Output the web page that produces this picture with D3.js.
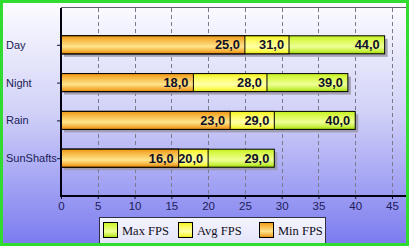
<!DOCTYPE html>
<html>
<head>
<meta charset="utf-8">
<script src="https://cdn.jsdelivr.net/npm/d3@7"></script>
<style>
  html, body { margin: 0; padding: 0; overflow: hidden; }
</style>
</head>
<body>
<script>
var width = 409,
    height = 246;

// chart data
var categories = ["Day", "Night", "Rain", "SunShafts"];
var maxFps = [44, 39, 40, 29];
var avgFps = [31, 28, 29, 20];
var minFps = [25, 18, 23, 16];
var xTicks = [0, 5, 10, 15, 20, 25, 30, 35, 40, 45];
var seriesNames = ["Max FPS", "Avg FPS", "Min FPS"];

var series = [
  {name: seriesNames[0], values: maxFps, grad: "gMax"},
  {name: seriesNames[1], values: avgFps, grad: "gAvg"},
  {name: seriesNames[2], values: minFps, grad: "gMin"}
];

var svg = d3.select("body").append("svg")
            .attr("width", width)
            .attr("height", height)

var defs = svg.append("defs");

function vgrad(id, stops) {
  var g = defs.append("linearGradient")
              .attr("id", id)
              .attr("x1", 0).attr("y1", 0)
              .attr("x2", 0).attr("y2", 1);
  stops.forEach(function(s) {
    g.append("stop").attr("offset", s[0]).attr("stop-color", s[1]);
  });
}

vgrad("bg", [[0, "#fdfdff"], [0.45, "#d2d2f8"], [1, "#7a7af0"]]);
vgrad("gMin", [[0, "#ef9614"], [0.2, "#f6b43c"], [0.6, "#fee48c"], [0.85, "#f5b038"], [1, "#e38608"]]);
vgrad("gAvg", [[0, "#f4f018"], [0.25, "#fcfc60"], [0.6, "#ffffa8"], [0.85, "#fafa50"], [1, "#e8e408"]]);
vgrad("gMax", [[0, "#c4f020"], [0.25, "#dcfa50"], [0.6, "#eeff96"], [0.85, "#c8f040"], [1, "#98d800"]]);
vgrad("gLeg", [[0, "#f4f4ff"], [1, "#e4e4fa"]]);

// background
svg.append("rect")
   .attr("width", width).attr("height", height)
   .attr("fill", "url(#bg)");

var x = d3.scaleLinear()
          .domain([0, 45])
          .range([61, 392]);

var y = d3.scalePoint()
          .domain(categories)
          .range([7, 196])
          .padding(1);

var barH = 18;
var axisY = 196;

// top border of plot
svg.append("line")
   .attr("x1", 61).attr("x2", width)
   .attr("y1", 7.5).attr("y2", 7.5)
   .attr("stroke", "#606070").attr("stroke-width", 1);

// dashed grid
svg.append("g")
   .selectAll("line")
   .data(xTicks.filter(function(d){ return d > 0; }))
   .enter()
   .append("line")
   .attr("x1", function(d){ return Math.round(x(d)) + 0.5; })
   .attr("x2", function(d){ return Math.round(x(d)) + 0.5; })
   .attr("y1", 8).attr("y2", axisY)
   .attr("stroke", "#7a7a8a")
   .attr("stroke-width", 1)
   .attr("stroke-dasharray", "4,3");

// shadows (only the longest one shows)
svg.append("g")
   .selectAll("rect")
   .data(categories)
   .enter()
   .append("rect")
   .attr("x", x(0) + 3)
   .attr("y", function(d){ return y(d) - barH / 2 + 3; })
   .attr("width", function(d, i){ return x(maxFps[i]) - x(0); })
   .attr("height", barH)
   .attr("fill", "#9a96a8")
   .attr("opacity", 0.85);

var fmt = function(v){ return d3.format(".1f")(v).replace(".", ","); };

series.forEach(function(s) {
  var g = svg.append("g");
  g.selectAll("rect")
   .data(s.values)
   .enter()
   .append("rect")
   .attr("x", x(0))
   .attr("y", function(d, i){ return y(categories[i]) - barH / 2; })
   .attr("width", function(d){ return x(d) - x(0); })
   .attr("height", barH)
   .attr("fill", "url(#" + s.grad + ")")
   .attr("stroke", "#000")
   .attr("stroke-width", 1);

  g.selectAll("text")
   .data(s.values)
   .enter()
   .append("text")
   .attr("x", function(d){ return x(d) - 5; })
   .attr("y", function(d, i){ return y(categories[i]) + 4.5; })
   .attr("text-anchor", "end")
   .attr("font-family", "Liberation Sans, Arial, sans-serif")
   .attr("font-weight", "bold")
   .attr("font-size", "12.8px")
   .attr("fill", "#101028")
   .text(fmt);
});

// x axis
var xAxis = svg.append("g")
   .attr("transform", "translate(0," + axisY + ")")
   .call(d3.axisBottom(x).tickValues(xTicks).tickSize(3).tickPadding(3).tickFormat(d3.format("d")));
xAxis.select(".domain").remove();
xAxis.selectAll("line").attr("stroke", "#101030");
xAxis.selectAll("text")
     .attr("font-family", "Liberation Sans, Arial, sans-serif")
     .attr("font-size", "11.5px")
     .attr("fill", "#1c1c58");

// y axis ticks + labels
svg.append("g")
   .selectAll("line")
   .data(categories)
   .enter()
   .append("line")
   .attr("x1", 57).attr("x2", 61)
   .attr("y1", function(d){ return y(d) + 0.5; })
   .attr("y2", function(d){ return y(d) + 0.5; })
   .attr("stroke", "#101030");

svg.append("g")
   .selectAll("text")
   .data(categories)
   .enter()
   .append("text")
   .attr("x", 6)
   .attr("y", function(d){ return y(d) + 4; })
   .attr("font-family", "Liberation Sans, Arial, sans-serif")
   .attr("font-size", "11px")
   .attr("fill", "#1c1c58")
   .text(function(d){ return d; });

// axis lines
svg.append("line")
   .attr("x1", 61).attr("x2", 61)
   .attr("y1", 8).attr("y2", axisY + 1)
   .attr("stroke", "#000010").attr("stroke-width", 2);
svg.append("line")
   .attr("x1", 60).attr("x2", width)
   .attr("y1", axisY).attr("y2", axisY)
   .attr("stroke", "#000010").attr("stroke-width", 2);

// legend
var legend = svg.append("g");
legend.append("rect")
      .attr("x", 99.5).attr("y", 217.5)
      .attr("width", 226).attr("height", 26)
      .attr("fill", "url(#gLeg)")
      .attr("stroke", "#303040");

var legX = [103, 178, 259];
var legGrad = ["gMax", "gAvg", "gMin"];
var items = legend.selectAll("g.item")
                  .data(seriesNames)
                  .enter()
                  .append("g")
                  .attr("class", "item")
                  .attr("transform", function(d, i){ return "translate(" + legX[i] + ",222)"; });
items.append("rect")
     .attr("x", 0.5).attr("y", 0.5)
     .attr("width", 14).attr("height", 15)
     .attr("fill", function(d, i){ return "url(#" + legGrad[i] + ")"; })
     .attr("stroke", "#000");
items.append("text")
     .attr("x", 19).attr("y", 12.5)
     .attr("font-family", "Liberation Serif, Times New Roman, serif")
     .attr("font-size", "12.5px")
     .attr("fill", "#101020")
     .text(function(d){ return d; });

// green frame
svg.append("rect")
   .attr("x", 1.5).attr("y", 1.5)
   .attr("width", width - 3).attr("height", height - 3)
   .attr("fill", "none")
   .attr("stroke", "#30dc30")
   .attr("stroke-width", 3);
</script>
</body>
</html>
